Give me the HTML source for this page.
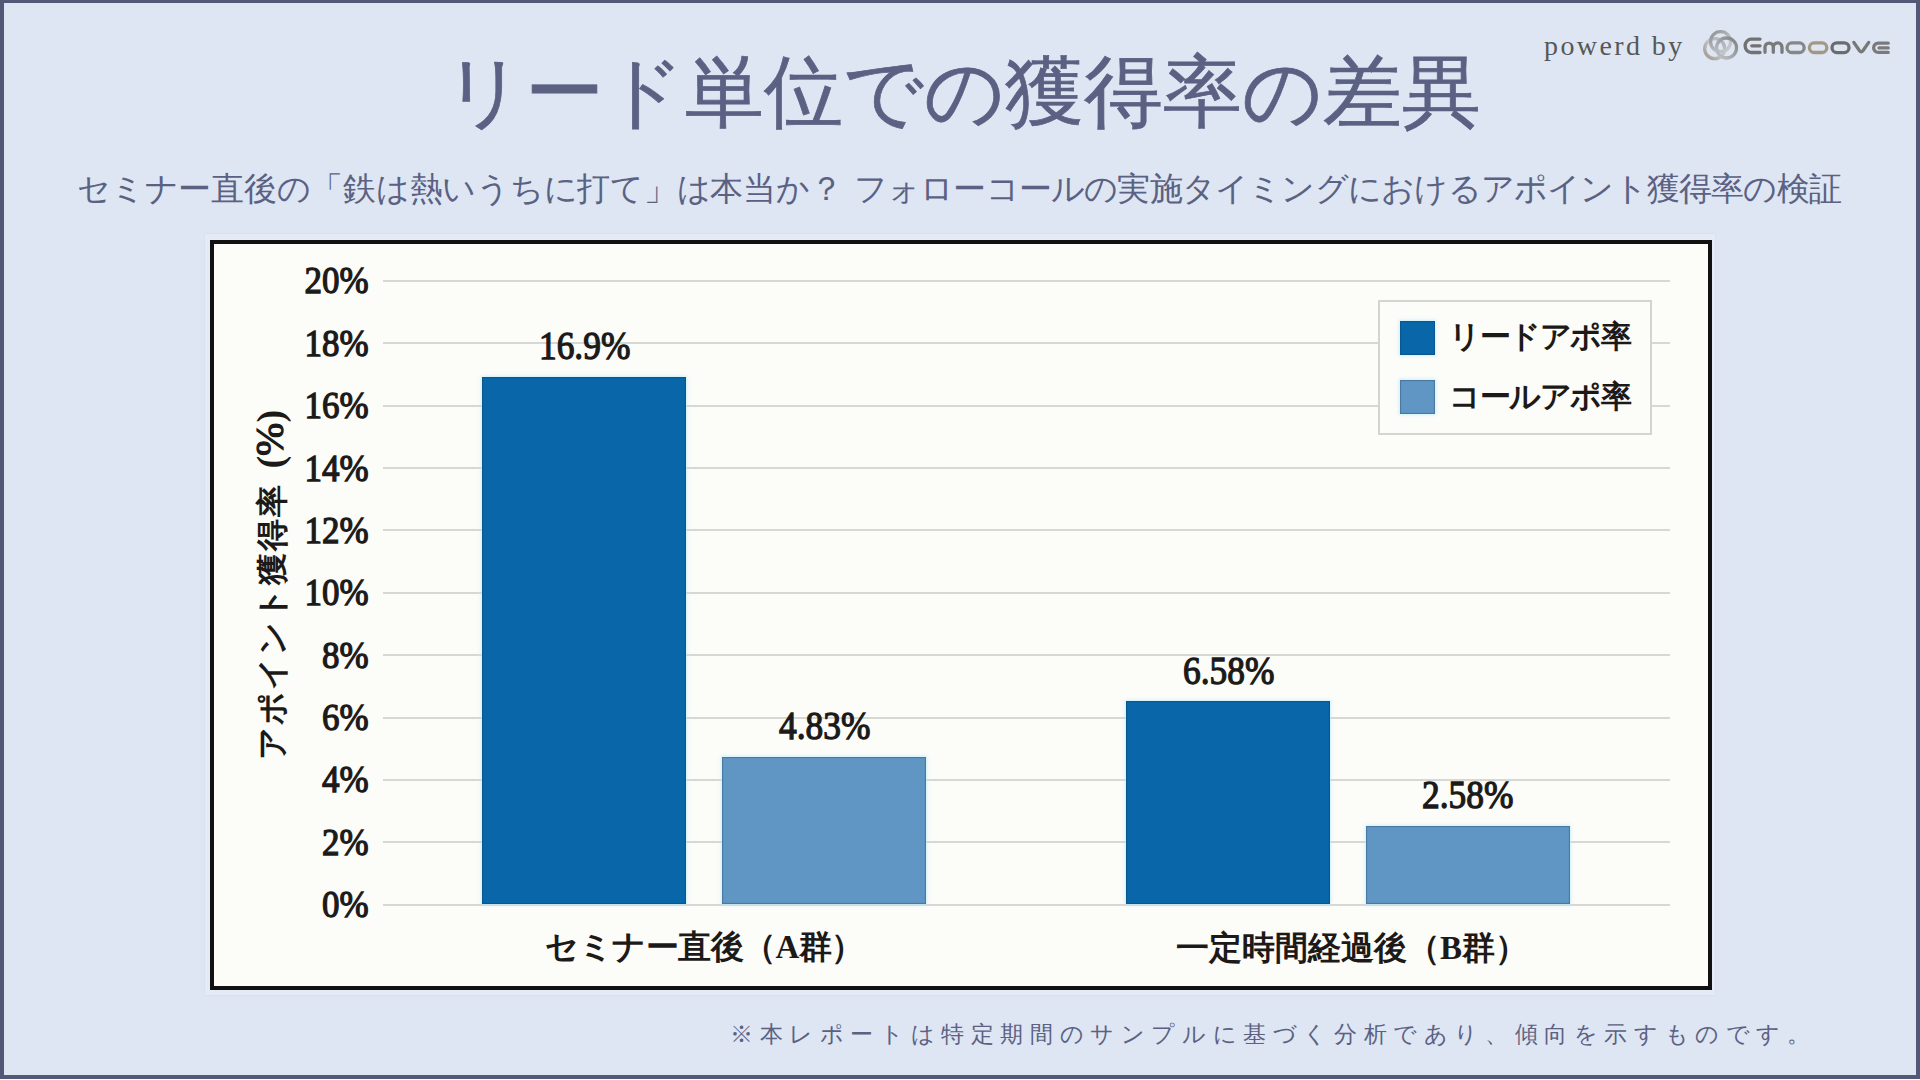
<!DOCTYPE html>
<html><head><meta charset="utf-8">
<style>
html,body{margin:0;padding:0;background:#fff;}
body{width:1920px;height:1080px;overflow:hidden;position:relative;font-family:"Liberation Serif",serif;}
.abs{position:absolute;white-space:nowrap;}
#page{position:absolute;left:0;top:0;width:1920px;height:1079px;background:#535877;}
#bg{position:absolute;left:4px;top:3px;width:1912px;height:1072px;background:#dde6f2;}
#title{left:2px;width:1920px;text-align:center;font-size:79px;line-height:1;color:#5b6183;-webkit-text-stroke:0.7px #5b6183;}
#sub{font-size:33px;line-height:1;color:#5b6183;}
#pow{font-size:28px;color:#575757;letter-spacing:2.4px;line-height:1;}
#foot{font-size:23px;color:#5b6183;letter-spacing:6.6px;line-height:1;}
#chart{position:absolute;left:210px;top:240px;width:1494px;height:741.5px;background:#fcfcf9;border:4px solid #111;}
.c{position:absolute;white-space:nowrap;color:#1c1a18;font-weight:bold;line-height:1;}
.g{position:absolute;left:383px;width:1287px;height:2px;background:#d7d8d3;}
.bar{position:absolute;box-shadow:inset 0 0 1px 1px rgba(20,50,80,.3),0 0 3px 1px rgba(190,235,252,.75);}
.dk{background:#0866a9;}
.lt{background:#5f96c3;}
.yl{font-size:38px;text-align:right;width:100px;left:268.5px;}
.yl span,.dl span{font-weight:normal;-webkit-text-stroke:1.3px #1c1a18;}
.yl span{display:inline-block;transform:scaleX(.92);transform-origin:100% 50%;}
.dl{font-size:40px;text-align:center;width:200px;}
.dl span{display:inline-block;transform:scaleX(.885);transform-origin:50% 50%;}
.xl{font-size:33px;}
</style></head><body>
<div id="page"></div>
<div id="bg"></div>
<div class="abs" id="title" style="top:53px">リード単位での獲得率の差異</div>
<div class="abs" id="sub" style="top:173px;left:77px"><span style="letter-spacing:-0.25px">セミナー直後の「鉄は熱いうちに打て」は本当か？</span><span style="display:inline-block;width:11.5px"></span><span style="letter-spacing:-0.79px">フォローコールの実施タイミングにおけるアポイント獲得率の検証</span></div>
<div class="abs" id="pow" style="left:1544px;top:32px">powerd by</div>
<svg class="abs" style="left:1695px;top:25px" width="200" height="40" viewBox="0 0 200 40">
<defs><linearGradient id="rg" x1="0" y1="1" x2="1" y2="0"><stop offset="0" stop-color="#a0978a"/><stop offset=".55" stop-color="#c4c6ca"/><stop offset="1" stop-color="#a9abb0"/></linearGradient>
<linearGradient id="rg1" x1="0" y1="0" x2="1" y2="1"><stop offset="0" stop-color="#8f9092"/><stop offset=".6" stop-color="#b9bcc0"/><stop offset="1" stop-color="#c9ccd0"/></linearGradient>
<linearGradient id="rg3" x1="1" y1="0" x2="0" y2="1"><stop offset="0" stop-color="#808284"/><stop offset=".6" stop-color="#a7a9ad"/><stop offset="1" stop-color="#c2c5c9"/></linearGradient></defs>
<g fill="none" stroke-width="3.3">
<circle cx="19.7" cy="23.7" r="10" stroke="url(#rg)"/><circle cx="25.6" cy="16.7" r="10" stroke="url(#rg1)"/><circle cx="31.5" cy="23" r="10" stroke="url(#rg3)"/>
</g>
<g fill="none" stroke-width="3.3" stroke-linecap="round" stroke-linejoin="round">
<path d="M65 14.1H56.4A6.3 6.7 0 0 0 50.1 20.8A6.3 6.7 0 0 0 56.4 27.5H65M56.8 20.8H65" stroke="#727272"/>
<path d="M70 27.3V22.2A4.15 4.15 0 0 1 78.3 22.2V27.3M78.3 22.2A4.35 4.35 0 0 1 87 22.2V27.3" stroke="#7a7a7a"/>
<rect x="92.05" y="17.9" width="17.1" height="9.6" rx="4.8" stroke="#878787"/>
<rect x="114.4" y="17.9" width="17.4" height="9.6" rx="4.8" stroke="#a39886"/>
<rect x="137" y="17.8" width="17" height="9.8" rx="4.9" stroke="#6c6c6c"/>
<path d="M158.8 17.4L164.4 25.5Q166.25 28 168.1 25.5L173.7 17.4" stroke="#787878"/>
<path d="M193.2 18.2H183.3A4.6 4.6 0 0 0 178.6 22.8A4.6 4.6 0 0 0 183.3 27.4H193.2M184 22.9H193.2" stroke="#7a7a7a"/>
</g></svg>
<div class="abs" id="foot" style="left:730px;top:1023px">※本レポートは特定期間のサンプルに基づく分析であり、傾向を示すものです。</div>

<div class="abs" style="left:204px;top:233px;width:1512px;height:763px;background:#e4ebf6;box-shadow:inset 0 0 0 1px #d9e1ec;"></div>
<div id="chart"></div>
<div class="g" style="top:280px"></div>
<div class="g" style="top:342px"></div>
<div class="g" style="top:405px"></div>
<div class="g" style="top:467px"></div>
<div class="g" style="top:529px"></div>
<div class="g" style="top:592px"></div>
<div class="g" style="top:654px"></div>
<div class="g" style="top:717px"></div>
<div class="g" style="top:779px"></div>
<div class="g" style="top:841px"></div>
<div class="g" style="top:904px"></div>

<div class="bar dk" style="left:482px;top:377px;width:204px;height:527px"></div>
<div class="bar lt" style="left:722px;top:757px;width:204px;height:147px"></div>
<div class="bar dk" style="left:1126px;top:701px;width:204px;height:203px"></div>
<div class="bar lt" style="left:1366px;top:826px;width:204px;height:78px"></div>

<div class="c yl" style="top:261.4px"><span>20%</span></div>
<div class="c yl" style="top:323.7px"><span>18%</span></div>
<div class="c yl" style="top:386.1px"><span>16%</span></div>
<div class="c yl" style="top:448.5px"><span>14%</span></div>
<div class="c yl" style="top:510.8px"><span>12%</span></div>
<div class="c yl" style="top:573.2px"><span>10%</span></div>
<div class="c yl" style="top:635.6px"><span>8%</span></div>
<div class="c yl" style="top:697.9px"><span>6%</span></div>
<div class="c yl" style="top:760.3px"><span>4%</span></div>
<div class="c yl" style="top:822.7px"><span>2%</span></div>
<div class="c yl" style="top:885.0px"><span>0%</span></div>

<div class="c dl" style="left:485px;top:326.3px"><span>16.9%</span></div>
<div class="c dl" style="left:725px;top:706px"><span>4.83%</span></div>
<div class="c dl" style="left:1128.5px;top:650.6px"><span>6.58%</span></div>
<div class="c dl" style="left:1368px;top:775.3px"><span>2.58%</span></div>

<div class="c xl" style="left:545px;top:931px;letter-spacing:-0.5px">セミナー直後（A群）</div>
<div class="c xl" style="left:1176px;top:932px">一定時間経過後（B群）</div>

<div class="c" id="ytitle" style="left:0;top:0;font-size:32px;letter-spacing:2.05px;transform-origin:0 0;transform:translate(250px,760px) rotate(-90deg);">アポイント獲得率<span style="font-size:38px;letter-spacing:0;margin-left:14px">(</span><span style="font-size:40px;letter-spacing:0;font-weight:normal;-webkit-text-stroke:1.2px #1c1a18">%</span><span style="font-size:38px;letter-spacing:0">)</span></div>

<div class="abs" style="left:1378px;top:300px;width:270px;height:131px;border:2px solid #d4d4d0;background:#fcfcf9;"></div>
<div class="bar dk" style="left:1400px;top:321px;width:35px;height:34px"></div>
<div class="bar lt" style="left:1400px;top:380px;width:35px;height:34px"></div>
<div class="c" style="left:1449px;top:321px;font-size:31px;letter-spacing:-1.5px">リードアポ率</div>
<div class="c" style="left:1449px;top:381px;font-size:31px;letter-spacing:-1.5px">コールアポ率</div>
</body></html>
